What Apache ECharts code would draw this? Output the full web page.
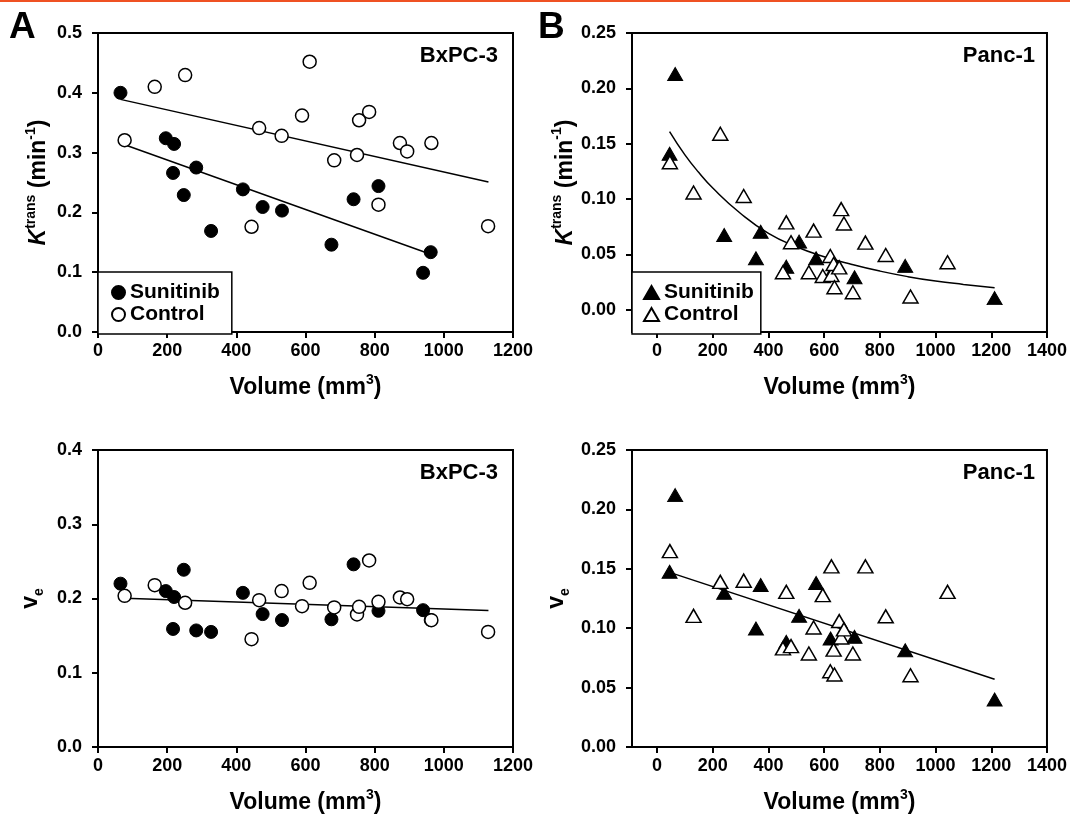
<!DOCTYPE html>
<html>
<head>
<meta charset="utf-8">
<title>Ktrans and ve versus tumour volume</title>
<script src="https://cdn.jsdelivr.net/npm/echarts@6/dist/echarts.min.js"></script>
<style>
  html, body { margin: 0; padding: 0; background: #fff; }
  #chart { width: 1070px; height: 819px; }
</style>
</head>
<body>
<div id="chart"></div>
<script>
// ---- BxPC-3 (panel A) ----
var bxSuniVol = [65, 196, 220, 217, 248, 284, 327, 419, 476, 532, 675, 739, 811, 940, 962]
var bxSuniKtrans = [0.400, 0.324, 0.3145, 0.266, 0.229, 0.275, 0.169, 0.2385, 0.209, 0.203, 0.146, 0.222, 0.244, 0.099, 0.1335]
var bxSuniVe = [0.220, 0.210, 0.202, 0.159, 0.2387, 0.157, 0.155, 0.2076, 0.179, 0.171, 0.172, 0.246, 0.1834, 0.1843, 0.171]

var bxCtrlVol = [77, 164, 252, 444, 466, 531, 590, 612, 683, 749, 755, 784, 811, 873, 894, 964, 1128]
var bxCtrlKtrans = [0.3207, 0.410, 0.4296, 0.176, 0.341, 0.328, 0.362, 0.452, 0.287, 0.296, 0.354, 0.368, 0.213, 0.316, 0.302, 0.316, 0.177]
var bxCtrlVe = [0.2036, 0.218, 0.1942, 0.1452, 0.1978, 0.210, 0.1897, 0.2211, 0.188, 0.1785, 0.1888, 0.2512, 0.1955, 0.2014, 0.199, 0.1708, 0.155]

// fit lines, end points
var bxKtransFitUpper = [[65, 0.389], [1129, 0.251]]
var bxKtransFitLower = [[77, 0.313], [962, 0.130]]
var bxVeFit = [[77, 0.2004], [1129, 0.1838]]

// ---- Panc-1 (panel B) ----
var pcSuniVol = [45, 65, 241, 355, 372, 464, 510, 571, 623, 709, 891, 1212]
var pcSuniKtrans = [0.141, 0.213, 0.0676, 0.0466, 0.0706, 0.039, 0.0616, 0.0466, 0.032, 0.0294, 0.0397, 0.0106]
var pcSuniVe = [0.1475, 0.212, 0.1298, 0.0998, 0.1363, 0.0885, 0.1104, 0.138, 0.0913, 0.0927, 0.0815, 0.040]

var pcCtrlVol = [46, 131, 227, 311, 452, 464, 481, 545, 562, 595, 622, 626, 634, 637, 654, 661, 671, 703, 748, 821, 910, 1043]
var pcCtrlKtrans = [0.1333, 0.106, 0.159, 0.1028, 0.034, 0.079, 0.061, 0.034, 0.0715, 0.0306, 0.0486, 0.0315, 0.0414, 0.0204, 0.0384, 0.091, 0.078, 0.0159, 0.0607, 0.0495, 0.0121, 0.043]
var pcCtrlVe = [0.1649, 0.1104, 0.139, 0.140, 0.083, 0.1306, 0.0849, 0.0787, 0.1006, 0.1278, 0.0638, 0.152, 0.082, 0.061, 0.106, 0.0922, 0.099, 0.0787, 0.152, 0.110, 0.0604, 0.1306]

// decay curve through Ktrans, sampled off the figure
var pcKtransFitVol = [45, 100, 150, 200, 300, 400, 500, 600, 700, 800, 900, 1000, 1100, 1212]
var pcKtransFitVal = [0.161, 0.140, 0.124, 0.110, 0.087, 0.069, 0.057, 0.048, 0.041, 0.035, 0.030, 0.026, 0.023, 0.020]
var pcVeFit = [[45, 0.147], [1212, 0.057]]

// tick labels
var bxVolTicks = [0, 200, 400, 600, 800, 1000, 1200]
var pcVolTicks = [0, 200, 400, 600, 800, 1000, 1200, 1400]
var bxKtransTicks = [0, 0.1, 0.2, 0.3, 0.4, 0.5]
var bxVeTicks = [0, 0.1, 0.2, 0.3, 0.4]
var pcTicks = [0, 0.05, 0.10, 0.15, 0.20, 0.25]

var FONT = 'Liberation Sans, Arial, Helvetica, sans-serif'

function pts(xs, ys) {
  return xs.map(function (x, i) { return [x, ys[i]] })
}

var nameRich = {
  n: { fontSize: 23, fontWeight: 'bold', fontFamily: FONT, color: '#000', lineHeight: 30 },
  k: { fontSize: 23, fontWeight: 'bold', fontStyle: 'italic', fontFamily: FONT, color: '#000', lineHeight: 30 },
  sup: { fontSize: 14, fontWeight: 'bold', fontFamily: FONT, color: '#000', verticalAlign: 'top' },
  sub: { fontSize: 14, fontWeight: 'bold', fontFamily: FONT, color: '#000', verticalAlign: 'bottom' }
}

function xAxis(grid, min, max, ticks) {
  return {
    type: 'value', gridIndex: grid, min: min, max: max,
    name: '{n|Volume (mm}{sup|3}{n|)}',
    nameLocation: 'middle', nameGap: 41,
    nameTextStyle: { rich: nameRich },
    axisLine: { show: true, onZero: false, lineStyle: { color: '#000', width: 2 } },
    axisTick: { show: true, customValues: ticks, length: 6, lineStyle: { color: '#000', width: 2 } },
    axisLabel: {
      customValues: ticks, margin: 10, color: '#000', fontSize: 18, fontWeight: 'bold', fontFamily: FONT,
      formatter: function (v) { return String(v) }
    },
    splitLine: { show: false }
  }
}

function yAxis(grid, min, max, ticks, digits, name, gap) {
  return {
    type: 'value', gridIndex: grid, min: min, max: max,
    name: name, nameLocation: 'middle', nameGap: gap,
    nameTextStyle: { rich: nameRich },
    axisLine: { show: true, onZero: false, lineStyle: { color: '#000', width: 2 } },
    axisTick: { show: true, customValues: ticks, length: 6, lineStyle: { color: '#000', width: 2 } },
    axisLabel: {
      customValues: ticks, margin: 16, color: '#000', fontSize: 18, fontWeight: 'bold', fontFamily: FONT,
      formatter: function (v) { return v.toFixed(digits) }
    },
    splitLine: { show: false }
  }
}

function fitLine(idx, data, smooth) {
  return {
    type: 'line', xAxisIndex: idx, yAxisIndex: idx, data: data,
    symbol: 'none', smooth: !!smooth, silent: true, z: 1,
    lineStyle: { color: '#000', width: 1.5 }
  }
}

function dots(idx, name, data, symbol, filled) {
  return {
    type: 'scatter', name: name, xAxisIndex: idx, yAxisIndex: idx, data: data,
    symbol: symbol, symbolSize: symbol === 'triangle' ? [15, 13] : 13, z: filled ? 2 : 3,
    itemStyle: filled
      ? { color: '#000', borderColor: '#000', borderWidth: 1, opacity: 1 }
      : { color: '#fff', borderColor: '#000', borderWidth: 1.5, opacity: 1 },
    emphasis: { disabled: true }
  }
}

function legend(left, icon, itemWidth, pad) {
  return {
    left: left, top: 272, orient: 'vertical', selectedMode: false,
    backgroundColor: '#fff', borderColor: '#000', borderWidth: 1.5, borderRadius: 0,
    padding: pad, itemGap: 1, itemWidth: itemWidth, itemHeight: 13,
    textStyle: { fontSize: 21, fontWeight: 'bold', fontFamily: FONT, color: '#000', lineHeight: 20 },
    data: [{ name: 'Sunitinib', icon: icon }, { name: 'Control', icon: icon }]
  }
}

function cellLabel(right, y, text) {
  return {
    type: 'text', right: right, top: y,
    style: { text: text, fontSize: 22, fontWeight: 'bold', fontFamily: FONT, fill: '#000' }
  }
}

var ktransName = '{k|K}{sup|trans}{n| (min}{sup|-1}{n|)}'
var veName = '{n|v}{sub|e}'

var chart = echarts.init(document.getElementById('chart'))

chart.setOption({
  animation: false,
  backgroundColor: '#fff',
  grid: [
    { left: 98, top: 33, width: 415, height: 299, show: true, borderColor: '#000', borderWidth: 2 },
    { left: 632, top: 33, width: 417, height: 299, show: true, borderColor: '#000', borderWidth: 2 },
    { left: 98, top: 450, width: 415, height: 297, show: true, borderColor: '#000', borderWidth: 2 },
    { left: 632, top: 450, width: 417, height: 297, show: true, borderColor: '#000', borderWidth: 2 }
  ],
  xAxis: [
    xAxis(0, 0, 1200, bxVolTicks),
    xAxis(1, -90, 1400, pcVolTicks),
    xAxis(2, 0, 1200, bxVolTicks),
    xAxis(3, -90, 1400, pcVolTicks)
  ],
  yAxis: [
    yAxis(0, 0, 0.5, bxKtransTicks, 1, ktransName, 44),
    yAxis(1, -0.02, 0.25, pcTicks, 2, ktransName, 51),
    yAxis(2, 0, 0.4, bxVeTicks, 1, veName, 52),
    yAxis(3, 0, 0.25, pcTicks, 2, veName, 60)
  ],
  legend: [
    legend(98, 'circle', 13, [10, 12, 9, 13]),
    legend(632, 'triangle', 15, [10, 7, 9, 11])
  ],
  graphic: [
    { type: 'rect', left: 0, top: 0, shape: { width: 1070, height: 2 }, style: { fill: '#ef5123' } },
    { type: 'text', left: 9, top: 9, style: { text: 'A', fontSize: 37, fontWeight: 'bold', fontFamily: FONT, fill: '#000' } },
    { type: 'text', left: 538, top: 9, style: { text: 'B', fontSize: 37, fontWeight: 'bold', fontFamily: FONT, fill: '#000' } },
    cellLabel(572, 45, 'BxPC-3'),
    cellLabel(35, 45, 'Panc-1'),
    cellLabel(572, 462, 'BxPC-3'),
    cellLabel(35, 462, 'Panc-1')
  ],
  series: [
    fitLine(0, bxKtransFitUpper),
    fitLine(0, bxKtransFitLower),
    dots(0, 'Sunitinib', pts(bxSuniVol, bxSuniKtrans), 'circle', true),
    dots(0, 'Control', pts(bxCtrlVol, bxCtrlKtrans), 'circle', false),

    fitLine(1, pts(pcKtransFitVol, pcKtransFitVal), true),
    dots(1, 'Sunitinib', pts(pcSuniVol, pcSuniKtrans), 'triangle', true),
    dots(1, 'Control', pts(pcCtrlVol, pcCtrlKtrans), 'triangle', false),

    fitLine(2, bxVeFit),
    dots(2, 'Sunitinib', pts(bxSuniVol, bxSuniVe), 'circle', true),
    dots(2, 'Control', pts(bxCtrlVol, bxCtrlVe), 'circle', false),

    fitLine(3, pcVeFit),
    dots(3, 'Sunitinib', pts(pcSuniVol, pcSuniVe), 'triangle', true),
    dots(3, 'Control', pts(pcCtrlVol, pcCtrlVe), 'triangle', false)
  ]
})
</script>
</body>
</html>
